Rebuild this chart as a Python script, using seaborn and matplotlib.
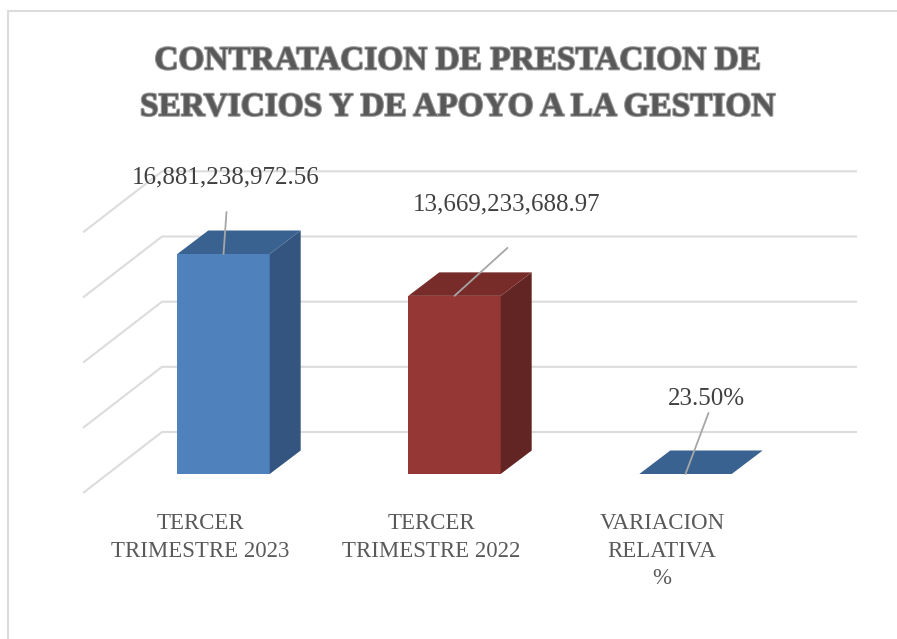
import matplotlib
matplotlib.use("Agg")
import matplotlib.pyplot as plt
import matplotlib.patheffects as pe
from matplotlib.patches import Polygon
import pandas as pd
import seaborn as sns

# tercer trimestre 2023, 2022 y variacion relativa
categorias = ["TERCER\nTRIMESTRE 2023", "TERCER\nTRIMESTRE 2022", "VARIACION\nRELATIVA\n%"]
valores = [16881238972.56, 13669233688.97, 0.235]
etiquetas = ["16,881,238,972.56", "13,669,233,688.97", "23.50%"]
grid_valores = [0, 5e9, 10e9, 15e9, 20e9]

frente = ["#4f81bd", "#953735", "#4f81bd"]
tapa = ["#3a6291", "#772c2a", "#3a6291"]
lado = ["#335580", "#632523", "#335580"]

titulo = "CONTRATACION DE PRESTACION DE\nSERVICIOS Y DE APOYO A LA GESTION"

# la escala sale del tamano en pixeles del original
px_x = 1 / 231
px_y = valores[0] / 220

sns.set_theme(style="white")
plt.rcParams["font.family"] = ["Liberation Serif", "DejaVu Serif"]

fig = plt.figure(figsize=(8.97, 6.39), dpi=100)
ax = fig.add_axes([0, 0, 1, 1])

df = pd.DataFrame({"cat": categorias, "valor": valores})
sns.barplot(data=df, x="cat", y="valor", hue="cat", palette=frente, width=0.4,
            legend=False, ax=ax, saturation=1, zorder=3, linewidth=0)

ax.set_xlim(-223.5 * px_x, (897 - 223.5) * px_x)
ax.set_ylim(-165 * px_y, 474 * px_y)
ax.axis("off")

# lineas de fondo con su tramo diagonal
for v in grid_valores:
    xs = [-140.5 * px_x, -61.5 * px_x, 633.5 * px_x]
    ys = [v - 19 * px_y, v + 42 * px_y, v + 42 * px_y]
    ax.plot(xs, ys, color="#dcdcdc", lw=1.5, zorder=1, solid_capstyle="butt")

# caras 3D de cada barra
dx = 31 * px_x
dy = 23.5 * px_y
for i, bar in enumerate(ax.patches):
    x0 = bar.get_x()
    x1 = x0 + bar.get_width()
    h = valores[i]
    ax.add_patch(Polygon([(x1, 0), (x1 + dx, dy), (x1 + dx, h + dy), (x1, h)],
                         fc=lado[i], ec="none", zorder=3))
    ax.add_patch(Polygon([(x0, h), (x0 + dx, h + dy), (x1 + dx, h + dy), (x1, h)],
                         fc=tapa[i], ec="none", zorder=4))

# lineas guia y etiquetas de datos
guias = [(3, 42), (53, 48), (23, 61)]
textos = [(2, 77), (52, 91), (21, 75)]
for i, cat in enumerate(categorias):
    ax.annotate("", xy=(i, valores[i]), xytext=guias[i], textcoords="offset pixels",
                arrowprops=dict(arrowstyle="-", color="#a6a6a6", lw=1.3, shrinkA=0, shrinkB=0),
                zorder=6)
    ax.annotate(etiquetas[i], xy=(i, valores[i]), xytext=textos[i], textcoords="offset pixels",
                ha="center", va="center", fontsize=18, color="#404040", zorder=7)
    ax.text(i - 23.5 * px_x, -39 * px_y, cat, ha="center", va="top", fontsize=16.5,
            color="#595959", linespacing=1.42)

fig.text(458 / 897, 1 - 84 / 639, titulo, ha="center", va="center", fontsize=24,
         family="Liberation Serif", weight="bold", color="#595959", linespacing=1.64,
         path_effects=[pe.withStroke(linewidth=1.6, foreground="#9a9a9a")])

# marco del grafico
ax.plot([-215.5 * px_x, -215.5 * px_x], [-165 * px_y, 463 * px_y],
        color="#dcdcdc", lw=1.5, zorder=1)
ax.plot([-215.5 * px_x, 673.5 * px_x], [463 * px_y, 463 * px_y],
        color="#dcdcdc", lw=1.5, zorder=1)

fig.savefig("out.png", dpi=100)
